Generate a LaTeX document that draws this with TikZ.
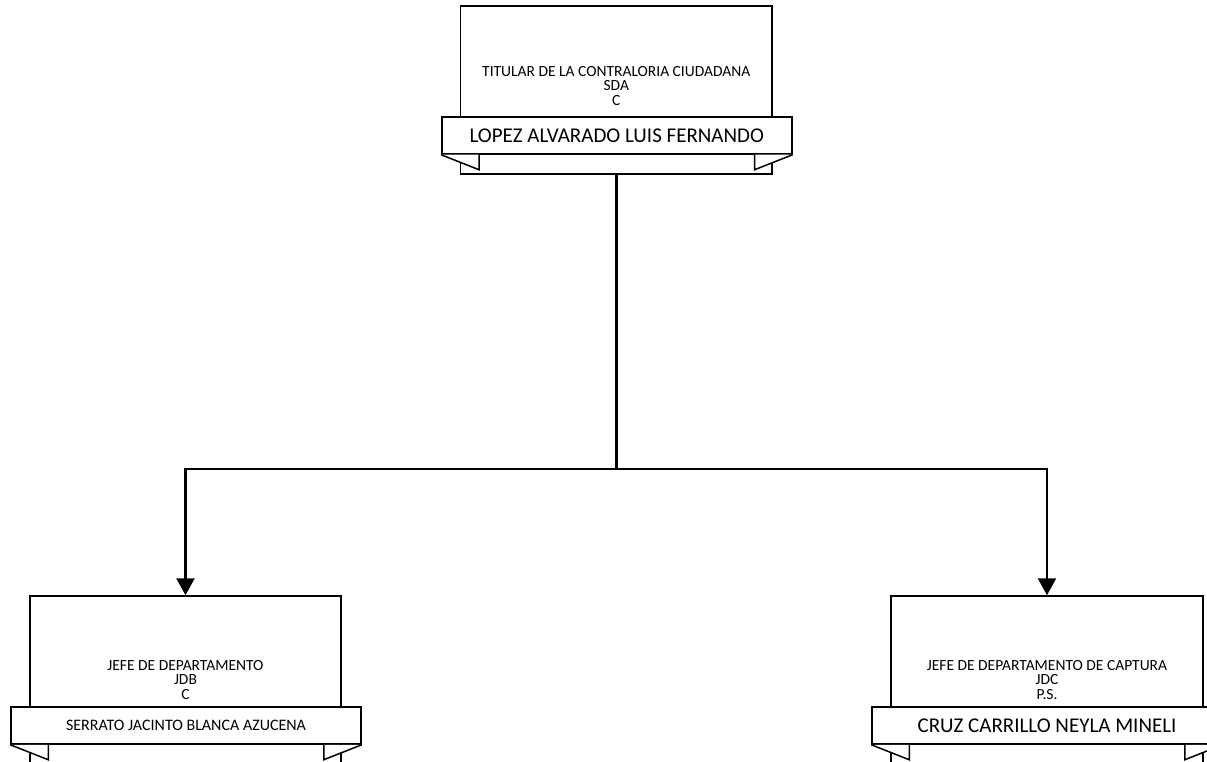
\documentclass[tikz,border=0pt]{standalone}
\usepackage{fontspec}
\setmainfont{Carlito}
\usetikzlibrary{arrows.meta}
\tikzset{
  posbox/.style={draw=black, line width=1.5pt, fill=white, inner sep=0pt},
  ribbon/.style={draw=black, line width=1.5pt, fill=white, inner sep=0pt, minimum width=350pt, minimum height=37pt},
  tailshape/.style={draw=black, line width=1.5pt, fill=white, line join=miter},
  smalltxt/.style={align=center, inner sep=0pt, font=\fontsize{15.5}{14.5}\selectfont},
  bigtxt/.style={font=\fontsize{21}{24}\selectfont},
  midtxt/.style={font=\fontsize{16}{18}\selectfont},
  conn/.style={draw=black, line width=2.5pt},
  arr/.style={conn, -{Triangle[width=18pt,length=17pt]}},
}
\newcommand{\tails}[1]{%
  \draw[tailshape] (#1.south west) -- ++(38,15) -- ++(0,-15);
  \draw[tailshape] (#1.south east) -- ++(-38,15) -- ++(0,-15);
}
\begin{document}
\begin{tikzpicture}[x=1pt,y=-1pt]
\clip (0,0) rectangle (1207,762);
\fill[white] (0,0) rectangle (1207,762);
% top
\node[posbox, minimum width=311.3pt, minimum height=168pt] (tb) at (616.3,90) {};
\node[smalltxt] (tt) at (616.3,86) {TITULAR DE LA CONTRALORIA CIUDADANA\\SDA\\C};
\node[ribbon] (tr) at (616.8,135.5) {};
\tails{tr}
\node[bigtxt] (tn) at (tr.center) {LOPEZ ALVARADO LUIS FERNANDO};
% bottom left
\node[posbox, minimum width=311pt, minimum height=184pt] (lb) at (185.5,688) {};
\node[smalltxt] (lt) at (185.5,680) {JEFE DE DEPARTAMENTO\\JDB\\C};
\node[ribbon] (lr) at (186,725.5) {};
\tails{lr}
\node[midtxt] (ln) at (lr.center) {SERRATO JACINTO BLANCA AZUCENA};
% bottom right
\node[posbox, minimum width=312pt, minimum height=184pt] (rb) at (1047,688) {};
\node[smalltxt] (rt) at (1047,680) {JEFE DE DEPARTAMENTO DE CAPTURA\\JDC\\P.S.};
\node[ribbon] (rr) at (1047,725.5) {};
\tails{rr}
\node[bigtxt] (rn) at (rr.center) {CRUZ CARRILLO NEYLA MINELI};
% connectors
\coordinate (j) at (616.3,469);
\draw[conn] (tb.south) -- (j);
\draw[arr] (j) -| (lb.north);
\draw[arr] (j) -| (rb.north);
\end{tikzpicture}
\end{document}
